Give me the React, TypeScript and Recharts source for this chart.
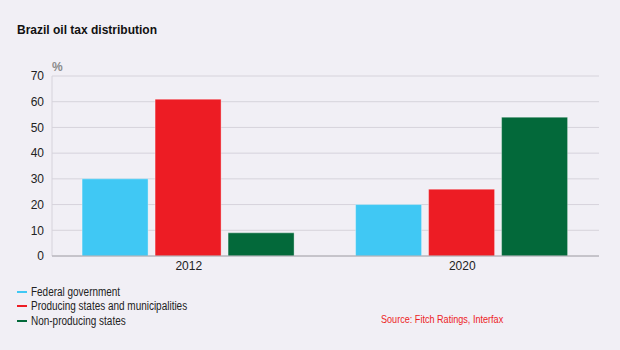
import React from "react";
import { BarChart, Bar, XAxis, YAxis, CartesianGrid } from "recharts";

const categories = ["2012", "2020"];
const federal = [30, 20];
const producing = [61, 26];
const nonProducing = [9, 54];
const yTicks = [0, 10, 20, 30, 40, 50, 60, 70];

const seriesNames = ["Federal government", "Producing states and municipalities", "Non-producing states"];
const seriesKeys = ["federal", "producing", "nonProducing"];
const seriesColors = ["#40C8F4", "#ED1C24", "#03693A"];

const data = categories.map((c, i) => ({
  year: c,
  federal: federal[i],
  producing: producing[i],
  nonProducing: nonProducing[i],
}));

const FONT = "Tahoma, 'Liberation Sans', Arial, sans-serif";

export default function App() {
  return (
    <div
      style={{
        position: "absolute",
        left: 0,
        top: 0,
        width: 620,
        height: 350,
        background: "#F1EFF5",
        fontFamily: FONT,
        overflow: "hidden",
      }}
    >
      <div
        style={{
          position: "absolute",
          left: 17,
          top: 23,
          fontSize: 12,
          fontWeight: "bold",
          color: "#111",
          whiteSpace: "nowrap",
        }}
      >
        Brazil oil tax distribution
      </div>
      <div style={{ position: "absolute", left: 52, top: 60, fontSize: 12, color: "#8a8a8a", fontWeight: "bold" }}>%</div>
      <div style={{ position: "absolute", left: 0, top: 0 }}>
        <BarChart
          width={620}
          height={350}
          data={data}
          margin={{ top: 76, right: 21, bottom: 74, left: 0 }}
          barCategoryGap="11%"
          barGap={7}
        >
          <CartesianGrid vertical={false} stroke="#D6D3DB" strokeWidth={1} />
          <YAxis
            width={52}
            domain={[0, 70]}
            ticks={yTicks}
            interval={0}
            tickLine={false}
            tickSize={6}
            tickMargin={2}
            axisLine={{ stroke: "#D6D3DB" }}
            tick={{ fontSize: 12, fill: "#222", fontFamily: FONT }}
          />
          <XAxis
            dataKey="year"
            height={20}
            tickLine={false}
            tickSize={0}
            tickMargin={5}
            axisLine={{ stroke: "#A8A6AC" }}
            tick={{ fontSize: 12, fill: "#222", fontFamily: FONT }}
          />
          {seriesKeys.map((k, i) => (
            <Bar
              key={k}
              dataKey={k}
              name={seriesNames[i]}
              fill={seriesColors[i]}
              stroke="rgba(255,255,255,0.35)"
              strokeWidth={1}
              isAnimationActive={false}
            />
          ))}
        </BarChart>
      </div>
      {seriesNames.map((n, i) => (
        <div
          key={n}
          style={{
            position: "absolute",
            left: 17,
            top: 284 + i * 14.5,
            height: 15,
            display: "flex",
            alignItems: "center",
            fontSize: 12,
            color: "#222",
            whiteSpace: "nowrap",
          }}
        >
          <span style={{ display: "inline-block", width: 10, height: 2, background: seriesColors[i], marginRight: 4 }} />
          <span style={{ display: "inline-block", transform: "scaleX(0.83)", transformOrigin: "left center" }}>{n}</span>
        </div>
      ))}
      <div
        style={{
          position: "absolute",
          left: 381,
          top: 313,
          fontSize: 11.5,
          color: "#ED1C24",
          whiteSpace: "nowrap",
          transform: "scaleX(0.79)",
          transformOrigin: "left center",
        }}
      >
        Source: Fitch Ratings, Interfax
      </div>
    </div>
  );
}
